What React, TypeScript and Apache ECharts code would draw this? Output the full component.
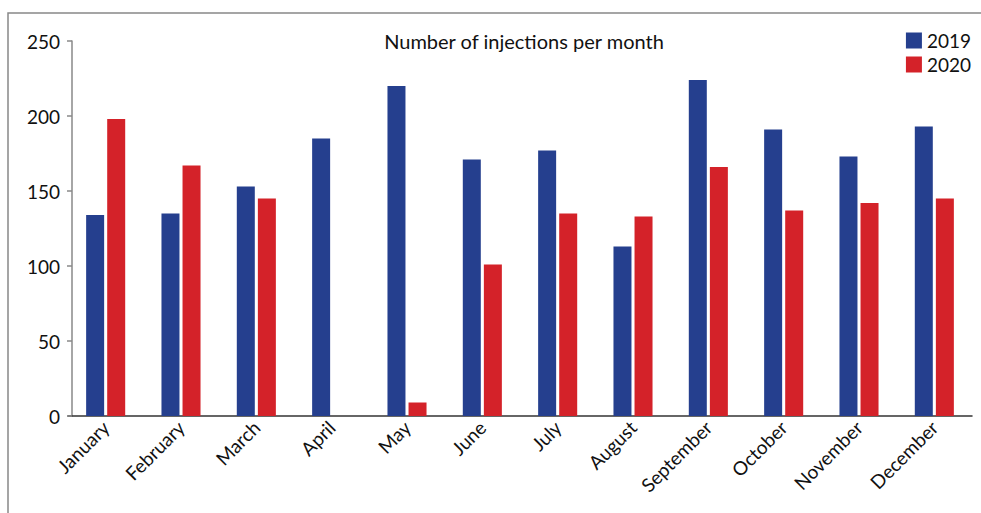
import React, { useEffect, useRef } from "react";
import * as echarts from "echarts";

const months = ["January", "February", "March", "April", "May", "June", "July", "August", "September", "October", "November", "December"];
const values2019 = [134, 135, 153, 185, 220, 171, 177, 113, 224, 191, 173, 193];
const values2020 = [198, 167, 145, 0, 9, 101, 135, 133, 166, 137, 142, 145];
const titleText = "Number of injections per month";

const FONT = "Lato, 'Open Sans', sans-serif";

export default function App() {
  const ref = useRef<HTMLDivElement>(null);
  useEffect(() => {
    if (!ref.current) return;
    const chart = echarts.init(ref.current, null, { renderer: "svg" });
    chart.setOption({
      animation: false,
      backgroundColor: "#ffffff",
      textStyle: { fontFamily: FONT },
      title: {
        text: titleText,
        left: 519,
        top: 26,
        textAlign: "center",
        textStyle: { fontFamily: FONT, fontSize: 20, fontWeight: "normal", color: "#111" },
      },
      legend: {
        orient: "vertical",
        right: 5,
        top: 26,
        itemWidth: 16,
        itemHeight: 16,
        itemGap: 5,
        icon: "rect",
        textStyle: { fontFamily: FONT, fontSize: 19, color: "#111", padding: [0, 0, 0, 0] },
        data: ["2019", "2020"],
      },
      graphic: [
        {
          type: "rect",
          shape: { x: 8, y: 13, width: 1100, height: 700 },
          style: { fill: "none", stroke: "#888", lineWidth: 1.5 },
          silent: true,
        },
      ],
      grid: { left: 68, right: 9, top: 41, bottom: 97, containLabel: false },
      xAxis: {
        type: "category",
        data: months,
        axisLine: { lineStyle: { color: "#333", width: 1.5 } },
        axisTick: { show: false },
        axisLabel: { rotate: 45, fontSize: 19, color: "#111", margin: 8, interval: 0, fontFamily: FONT },
      },
      yAxis: {
        type: "value",
        min: 0,
        max: 250,
        interval: 50,
        offset: -4,
        splitLine: { show: false },
        axisLine: { show: true, lineStyle: { color: "#888", width: 1.5 } },
        axisTick: { show: true, length: 5, lineStyle: { color: "#888", width: 1.5 } },
        axisLabel: { fontSize: 19, color: "#111", margin: 12, fontFamily: FONT },
      },
      series: [
        {
          name: "2019",
          type: "bar",
          data: values2019,
          itemStyle: { color: "#253f8e" },
          barWidth: 18,
          barGap: "17%",
        },
        {
          name: "2020",
          type: "bar",
          data: values2020,
          itemStyle: { color: "#d42229" },
          barWidth: 18,
          barGap: "17%",
        },
      ],
    });
    return () => chart.dispose();
  }, []);
  return (
    <div
      ref={ref}
      style={{ position: "fixed", left: 0, top: 0, width: 981, height: 513 }}
    />
  );
}
